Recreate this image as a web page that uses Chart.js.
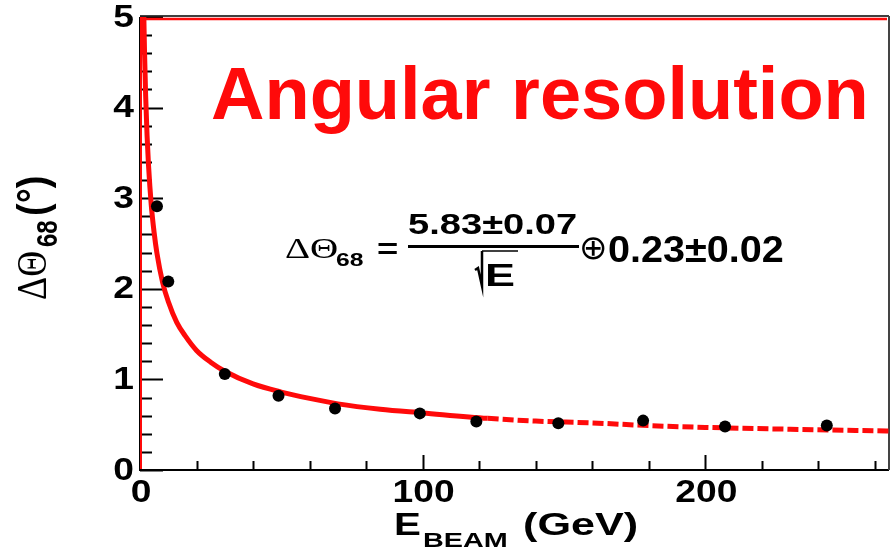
<!DOCTYPE html>
<html>
<head>
<meta charset="utf-8">
<script src="https://cdn.jsdelivr.net/npm/chart.js@4.4.1/dist/chart.umd.min.js"></script>
<style>
  html, body { margin: 0; padding: 0; background: #fff; }
  canvas { display: block; }
</style>
</head>
<body>
<canvas id="res" width="895" height="555"></canvas>
<script>
// ====== DATA ======
// measured 68% containment angle vs beam energy
const beamE   = [6, 10, 30, 49, 69, 99, 119, 148, 178, 207, 243];
const theta68 = [2.91, 2.08, 1.06, 0.82, 0.68, 0.625, 0.535, 0.515, 0.545, 0.48, 0.49];

// fit curve 5.83/sqrt(E) (+) 0.23, sampled
const fitE     = [1.36, 1.6, 2, 2.5, 3, 4, 5, 6, 8, 10, 13, 16, 20, 25, 30, 40, 50, 60, 70, 85, 100, 123, 140, 160, 180, 200, 230, 265];
const fitTheta = [5.00, 4.62, 4.13, 3.69, 3.37, 2.92, 2.62, 2.39, 2.07, 1.86, 1.63, 1.48, 1.32, 1.19, 1.09, 0.95, 0.86, 0.79, 0.73, 0.67, 0.63, 0.57, 0.54, 0.52, 0.49, 0.47, 0.45, 0.43];

const xTicks = [0, 100, 200];
const yTicks = [0, 1, 2, 3, 4, 5];

// ====== STYLE ======
const RED = '#ff0a0a';
const SANS = '"Liberation Sans", Arial, sans-serif';
const SERIF = '"Liberation Serif", "Times New Roman", serif';
const SX = 1.3; // ROOT text comes out wide

function txt(ctx, s, x, y, font, opt = {}){
  ctx.save();
  ctx.translate(x, y);
  if(opt.rot) ctx.rotate(opt.rot);
  ctx.scale(opt.sx || 1, opt.sy || 1);
  ctx.font = font;
  ctx.fillStyle = opt.color || '#000';
  ctx.textAlign = opt.align || 'left';
  ctx.textBaseline = opt.base || 'alphabetic';
  ctx.fillText(s, 0, 0);
  ctx.restore();
}

// ====== FRAME / TICKS / LABELS ======
const rootFrame = {
  id: 'rootFrame',
  beforeDatasetsDraw(chart){
    const { ctx, chartArea: a, scales: { x, y } } = chart;
    ctx.save();
    ctx.strokeStyle = '#000'; ctx.lineWidth = 2;
    ctx.beginPath();
    ctx.moveTo(a.left, a.top); ctx.lineTo(a.left, a.bottom); ctx.lineTo(a.right, a.bottom);
    ctx.stroke();
    ctx.lineWidth = 1.5;
    ctx.beginPath(); ctx.moveTo(a.left, a.top - 1); ctx.lineTo(a.right, a.top - 1); ctx.stroke();
    ctx.strokeStyle = '#444'; ctx.lineWidth = 2;
    ctx.beginPath(); ctx.moveTo(a.right, a.top - 1); ctx.lineTo(a.right, a.bottom); ctx.stroke();

    // y ticks, minor every 0.2
    ctx.strokeStyle = '#000'; ctx.lineWidth = 2;
    ctx.beginPath();
    for(let i = 0; i <= 25; i++){
      const py = Math.round(y.getPixelForValue(i / 5)) + 0.5;
      ctx.moveTo(a.left, py); ctx.lineTo(a.left + (i % 5 === 0 ? 23 : 12), py);
    }
    // x ticks, minor every 20
    for(let v = 0; v <= x.max; v += 20){
      const px = Math.round(x.getPixelForValue(v)) + 0.5;
      ctx.moveTo(px, a.bottom); ctx.lineTo(px, a.bottom - (v % 100 === 0 ? 15 : 9));
    }
    ctx.stroke();

    // tick labels
    const tf = `bold 31px ${SANS}`;
    for(const v of yTicks) txt(ctx, String(v), a.left - 6, y.getPixelForValue(v) + 1, tf, { sx: 1.2, align: 'right', base: 'middle' });
    for(const v of xTicks) txt(ctx, String(v), x.getPixelForValue(v) + 1, a.bottom + 32, tf, { sx: 1.2, align: 'center' });
    ctx.restore();
  },
  afterDatasetsDraw(chart){
    const { ctx, chartArea: a } = chart;
    ctx.save();
    ctx.strokeStyle = RED;
    ctx.lineWidth = 2.5;
    ctx.beginPath(); ctx.moveTo(a.left, a.top + 2); ctx.lineTo(a.right - 2, a.top + 2); ctx.stroke();
    ctx.lineWidth = 2;
    ctx.beginPath(); ctx.moveTo(a.left + 1, a.top); ctx.lineTo(a.left + 1, a.bottom - 1); ctx.stroke();
    ctx.restore();
  },
  afterDraw(chart){
    const { ctx } = chart;
    ctx.save();
    // heading
    txt(ctx, 'Angular resolution', 211, 119, `bold 74px ${SANS}`, { color: RED });

    // fit formula
    txt(ctx, 'ΔΘ', 285, 258, `30px ${SERIF}`, { sx: SX });
    txt(ctx, '68', 336, 266, `bold 19px ${SANS}`, { sx: SX });
    txt(ctx, '=', 377, 258, `bold 28px ${SANS}`, { sx: SX });
    txt(ctx, '5.83±0.07', 408, 234, `bold 30px ${SANS}`, { sx: 1.27 });
    ctx.fillStyle = '#000';
    ctx.fillRect(408, 245, 171, 3);
    // sqrt E
    ctx.strokeStyle = '#000';
    ctx.lineWidth = 2.5;
    ctx.beginPath(); ctx.moveTo(475, 270); ctx.lineTo(478, 268); ctx.lineTo(482, 286); ctx.lineTo(482, 251); ctx.stroke();
    ctx.lineWidth = 1.5;
    ctx.beginPath(); ctx.moveTo(482, 251); ctx.lineTo(518, 251); ctx.stroke();
    txt(ctx, 'E', 485, 286, `bold 31px ${SANS}`, { sx: 1.45 });
    txt(ctx, '⊕', 579, 259, `34px "DejaVu Sans", sans-serif`);
    txt(ctx, '0.23±0.02', 608, 262, `bold 36px ${SANS}`, { sx: 1.1 });

    // y title, rotated
    const R = -Math.PI / 2;
    txt(ctx, 'ΔΘ', 46, 300, `36px ${SERIF}`, { rot: R, sy: 1.15 });
    txt(ctx, '68', 57, 247, `bold 24px ${SANS}`, { rot: R, sy: 1.2 });
    txt(ctx, '(°)', 47, 216, `bold 38px ${SANS}`, { rot: R, sy: 1.1 });

    // x title
    txt(ctx, 'E', 394, 535, `bold 31px ${SANS}`, { sx: 1.3 });
    txt(ctx, 'BEAM', 423, 547, `bold 21px ${SANS}`, { sx: 1.37 });
    txt(ctx, '(GeV)', 523, 535, `bold 32px ${SANS}`, { sx: 1.35 });
    ctx.restore();
  }
};

// ====== CHART ======
new Chart(document.getElementById('res').getContext('2d'), {
  type: 'scatter',
  data: {
    datasets: [
      {
        label: 'data',
        data: beamE.map((e, i) => ({ x: e, y: theta68[i] })),
        pointRadius: 6,
        pointBackgroundColor: '#000',
        pointBorderWidth: 0,
        showLine: false
      },
      {
        label: 'fit',
        data: fitE.map((e, i) => ({ x: e, y: fitTheta[i] })),
        showLine: true,
        pointRadius: 0,
        borderColor: RED,
        borderWidth: 5,
        cubicInterpolationMode: 'monotone',
        segment: { borderDash: c => c.p0.parsed.x >= 123 ? [11, 4] : undefined }
      }
    ]
  },
  options: {
    responsive: false,
    animation: false,
    devicePixelRatio: 1,
    layout: { padding: { top: 17, right: 3, left: 0, bottom: 0 } },
    plugins: { legend: { display: false }, tooltip: { enabled: false } },
    scales: {
      x: {
        type: 'linear', min: 0, max: 265,
        afterBuildTicks: s => { s.ticks = xTicks.map(v => ({ value: v })); },
        afterFit: s => { s.height = 85; },
        grid: { display: false, drawTicks: false },
        border: { display: false },
        ticks: { display: false }
      },
      y: {
        type: 'linear', min: 0, max: 5,
        afterBuildTicks: s => { s.ticks = yTicks.map(v => ({ value: v })); },
        afterFit: s => { s.width = 140; },
        grid: { display: false, drawTicks: false },
        border: { display: false },
        ticks: { display: false }
      }
    }
  },
  plugins: [rootFrame]
});
</script>
</body>
</html>
